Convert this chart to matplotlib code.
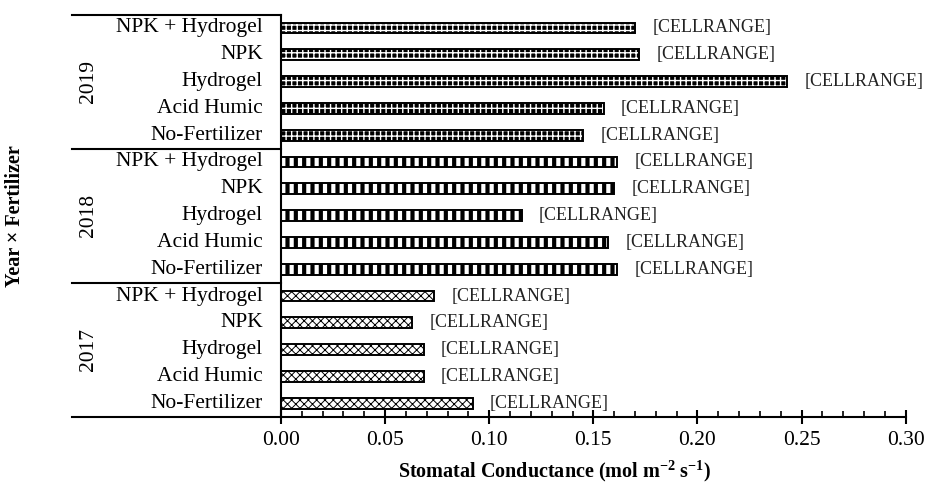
import matplotlib
matplotlib.use("Agg")
import matplotlib.pyplot as plt
import matplotlib.transforms as mtransforms
from matplotlib.ticker import MultipleLocator, FormatStrFormatter

plt.rcParams['font.family'] = ['Liberation Serif', 'DejaVu Serif']
plt.rcParams['mathtext.fontset'] = 'custom'
plt.rcParams['mathtext.rm'] = 'Liberation Serif'
plt.rcParams['mathtext.bf'] = 'Liberation Serif:bold'

# data, bottom to top within each year
treatments = ["No-Fertilizer", "Acid Humic", "Hydrogel", "NPK", "NPK + Hydrogel"]
years = ["2017", "2018", "2019"]
vals_2017 = [0.092, 0.0685, 0.0685, 0.063, 0.0735]
vals_2018 = [0.1615, 0.157, 0.1155, 0.160, 0.1615]
vals_2019 = [0.145, 0.155, 0.243, 0.172, 0.170]
bar_label = "[CELLRANGE]"

all_vals = [vals_2017, vals_2018, vals_2019]
# (face, hatch colour, hatch, hatch linewidth)
styles = [("white", "black", "xxxx", 0.7),
          ("white", "black", "||", 3.0),
          ("black", "white", "+++", 1.0)]

fig = plt.figure(figsize=(9.26, 4.84), dpi=100)
ax = fig.add_axes([281 / 926, 1 - 416.7 / 484, 624.7 / 926, (416.7 - 14.5) / 484])
trans = mtransforms.blended_transform_factory(ax.transAxes, ax.transData)

fs = 15.5
lab_fs = 13
bh = 0.4
pos = 0
for yi, vals in enumerate(all_vals):
    ypos = list(range(pos, pos + len(vals)))
    face, hcol, hatch, hlw = styles[yi]
    with plt.rc_context({"hatch.linewidth": hlw}):
        ax.barh(ypos, vals, height=bh, color=face, edgecolor=hcol,
                linewidth=0, hatch=hatch)
    ax.barh(ypos, vals, height=bh, color="none", edgecolor="black", linewidth=1.4)
    for y, v, name in zip(ypos, vals, treatments):
        ax.annotate(bar_label, (v, y), xytext=(12.5, 0), textcoords="offset points",
                    va="center", ha="left", fontsize=lab_fs, color="#222222")
        ax.annotate(name, (0, y), xycoords=trans,
                    xytext=(-13, 0), textcoords="offset points",
                    va="center", ha="right", fontsize=fs)
    ax.text(-0.308, pos + 2, years[yi], rotation=90, va="center", ha="center",
            fontsize=fs, transform=trans)
    pos += len(vals)

ax.set_ylim(-0.5, pos - 0.5)
ax.set_xlim(0, 0.30)

# group separator lines on the left
for ysep in [-0.5, 4.5, 9.5, 14.5]:
    ax.plot([-0.3346, 0], [ysep, ysep], color="black", lw=1.5, transform=trans, clip_on=False)

for s in ["top", "right"]:
    ax.spines[s].set_visible(False)
ax.spines["left"].set_linewidth(1.5)
ax.spines["bottom"].set_linewidth(1.5)

ax.set_yticks([])
ax.xaxis.set_major_locator(MultipleLocator(0.05))
ax.xaxis.set_minor_locator(MultipleLocator(0.01))
ax.xaxis.set_major_formatter(FormatStrFormatter("%.2f"))
ax.tick_params(axis="x", which="major", direction="inout", length=10, width=1.5,
               labelsize=fs, pad=5)
ax.tick_params(axis="x", which="minor", direction="in", length=4, width=1.2)

fig.text(555 / 926, 1 - 471 / 484, r"Stomatal Conductance (mol m$^{\mathbf{-2}}$ s$^{\mathbf{-1}}$)",
         ha="center", va="center", fontsize=14.5, fontweight="bold")
fig.text(15 / 926, 1 - 216 / 484, "Year × Fertilizer", rotation=90,
         ha="center", va="center", fontsize=14.5, fontweight="bold")

fig.savefig("out.png", dpi=100)
